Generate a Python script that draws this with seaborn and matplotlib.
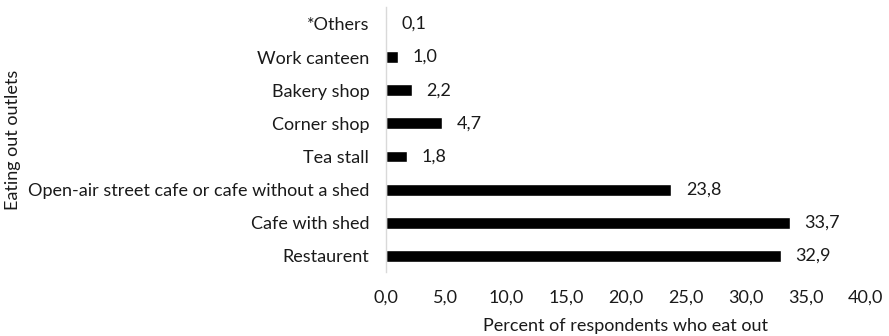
import matplotlib
matplotlib.use("Agg")
import matplotlib.pyplot as plt
import seaborn as sns
import pandas as pd

outlets = ["*Others", "Work canteen", "Bakery shop", "Corner shop", "Tea stall",
           "Open-air street cafe or cafe without a shed", "Cafe with shed", "Restaurent"]
percent = [0.1, 1.0, 2.2, 4.7, 1.8, 23.8, 33.7, 32.9]
x_ticks = [0, 5, 10, 15, 20, 25, 30, 35, 40]

sns.set_theme(style="white")
plt.rcParams["font.family"] = ["Lato", "DejaVu Sans"]

df = pd.DataFrame({"outlet": outlets, "percent": percent})

fig = plt.figure(figsize=(8.89, 3.36), dpi=100)
ax = fig.add_axes([0.434, 0.189, 0.540, 0.789])

sns.barplot(data=df, x="percent", y="outlet", order=outlets, color="black",
            width=0.36, saturation=1, ax=ax)

fs = 13
txt = "#1a1a1a"
for i, v in enumerate(percent):
    ax.text(v + 1.2, i, f"{v:.1f}".replace(".", ","), va="center", ha="left",
            fontsize=fs, color=txt)

ax.set_xlim(0, 40)
ax.set_xticks(x_ticks)
ax.set_xticklabels([f"{t:.1f}".replace(".", ",") for t in x_ticks], fontsize=fs, color=txt)
ax.tick_params(axis="y", labelsize=fs, labelcolor=txt, length=0, pad=12)
ax.tick_params(axis="x", length=0, pad=12)
ax.set_xlabel("Percent of respondents who eat out", fontsize=fs, color=txt, labelpad=9)
ax.set_ylabel("Eating out outlets", fontsize=fs, color=txt, labelpad=5)

for side in ["top", "right", "bottom"]:
    ax.spines[side].set_visible(False)
ax.spines["left"].set_color("#d9d9d9")
ax.spines["left"].set_linewidth(1)

fig.savefig("out.png", dpi=100)
